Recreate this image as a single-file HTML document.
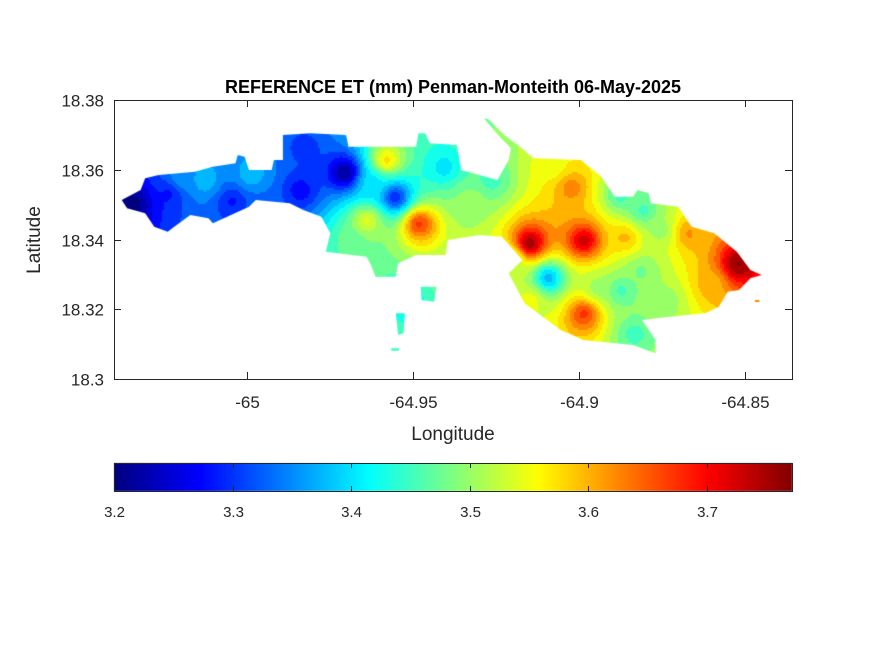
<!DOCTYPE html>
<html><head><meta charset="utf-8">
<style>
body{margin:0;background:#fff;}
#fig{position:relative;width:875px;height:656px;background:#fff;font-family:"Liberation Sans",Arial,sans-serif;color:#262626;overflow:hidden;}
canvas{position:absolute;left:0;top:0;}
svg{position:absolute;left:0;top:0;}
</style></head>
<body>
<div id="fig">
<canvas id="map" width="875" height="656"></canvas>
<svg id="ov" width="875" height="656"></svg>
</div>
<script>
// ---- data: sample points (lon, lat, ET mm) ----
const ptLon=[-64.9708,-64.9557,-64.9584,-64.9642,-64.9485,-64.9151,-64.8988,-64.9027,-64.8524,-64.8675,-64.9096,-64.8988,-64.8864,-65.0346,-65.0238,-65.0130,-65.0048,-64.9843,-64.9831,-64.9627,-64.9410,-64.9328,-64.9681,-64.9081,-64.8810,-64.8741,-64.8837,-64.9151,-64.9518,-64.8946,-64.8605,-64.8877,-64.8756,-64.8816,-64.9268,-64.9208,-64.8877,-65.0202,-64.9991,-64.9961];
const ptLat=[18.3594,18.3523,18.3629,18.3457,18.3448,18.3391,18.3399,18.3551,18.3333,18.3419,18.3293,18.3190,18.3408,18.3505,18.3534,18.3571,18.3514,18.3543,18.3666,18.3563,18.3609,18.3514,18.3399,18.3609,18.3485,18.3227,18.3133,18.3227,18.3227,18.3264,18.3276,18.3528,18.3428,18.3313,18.3571,18.3342,18.3256,18.3577,18.3586,18.3485];
const ptVal=[3.20,3.28,3.58,3.55,3.68,3.77,3.74,3.63,3.77,3.62,3.36,3.68,3.60,3.20,3.28,3.38,3.28,3.27,3.30,3.40,3.40,3.50,3.48,3.55,3.45,3.50,3.45,3.55,3.42,3.50,3.60,3.45,3.50,3.48,3.45,3.50,3.45,3.36,3.38,3.32];
const xTicks=[-65,-64.95,-64.9,-64.85];
const xTickLabels=["-65","-64.95","-64.9","-64.85"];
const yTicks=[18.3,18.32,18.34,18.36,18.38];
const yTickLabels=["18.3","18.32","18.34","18.36","18.38"];
const cTicks=[3.2,3.3,3.4,3.5,3.6,3.7];
const cTickLabels=["3.2","3.3","3.4","3.5","3.6","3.7"];
const cMin=3.2,cMax=3.772;

const AX={l:114,r:792,t:100,b:379};
const xMin=-65.0401,xMax=-64.8359,yMin=18.30,yMax=18.38;
const X=v=>AX.l+(v-xMin)/(xMax-xMin)*(AX.r-AX.l);
const Y=v=>AX.b-(v-yMin)/(yMax-yMin)*(AX.b-AX.t);
const CB={l:114,r:792,t:463,b:491};
const CX=v=>CB.l+(v-cMin)/(cMax-cMin)*(CB.r-CB.l);

function jet(t){t=Math.max(0,Math.min(1,t));
 const f=x=>Math.max(0,Math.min(1,x));
 const r=f(1.5-Math.abs(4*t-3)),g=f(1.5-Math.abs(4*t-2)),b=f(1.5-Math.abs(4*t-1));
 return [r*255|0,g*255|0,b*255|0];}

const outlineZ=[[48,300],[90,270],[100,235],[130,225],[210,215],[250,200],[300,190],[305,165],[320,170],[330,210],[380,210],[385,180],[405,180],[405,105],[465,100],[545,105],[550,140],[700,140],[705,100],[720,100],[730,130],[790,135],[800,210],[880,240],[905,180],[910,145],[885,110],[850,55],[860,58],[895,105],[930,140],[960,175],[1065,180],[1110,230],[1140,290],[1180,290],[1190,270],[1215,280],[1220,310],[1280,320],[1310,380],[1360,400],[1410,455],[1440,510],[1465,525],[1440,535],[1415,570],[1390,575],[1370,620],[1340,640],[1260,650],[1200,660],[1230,720],[1230,760],[1180,735],[1070,720],[1020,690],[940,610],[905,520],[935,480],[890,410],[840,405],[770,420],[765,465],[700,465],[660,490],[655,530],[610,530],[600,495],[590,470],[500,455],[510,400],[490,350],[450,330],[420,310],[345,300],[330,320],[250,370],[240,355],[200,345],[160,385],[150,395],[120,380],[100,340],[60,325]];
const islets=[[[655,640],[675,640],[672,700],[660,705]],[[710,560],[745,560],[740,605],[712,600]],[[645,745],[662,745],[662,752],[645,752]],[[1450,600],[1460,600],[1460,606],[1450,606]]];
const P=([zx,zy])=>[100+zx/2.214,100+zy/3];

const cv=document.getElementById('map'),ctx=cv.getContext('2d');
ctx.save();
ctx.beginPath();
[outlineZ,...islets].forEach(poly=>{poly.forEach((p,i)=>{const [x,y]=P(p);i?ctx.lineTo(x,y):ctx.moveTo(x,y);});ctx.closePath();});
ctx.clip();
const step=2;
for(let py=AX.t;py<AX.b;py+=step){
 for(let px=AX.l;px<AX.r;px+=step){
  let ws=0,vs=0;
  for(let i=0;i<ptVal.length;i++){
   const dx=(X(ptLon[i])-px),dy=(Y(ptLat[i])-py);
   const d2=dx*dx+dy*dy+30;const w=1/Math.pow(d2,1.15);ws+=w;vs+=w*ptVal[i];}
  let v=vs/ws; v=Math.round((v-cMin)/0.025)*0.025+cMin;
  const c=jet((v-cMin)/(cMax-cMin));
  ctx.fillStyle=`rgb(${c[0]},${c[1]},${c[2]})`;
  ctx.fillRect(px,py,step,step);
 }}
ctx.restore();
for(let x=CB.l;x<CB.r;x++){const c=jet((x-CB.l)/(CB.r-CB.l));ctx.fillStyle=`rgb(${c[0]},${c[1]},${c[2]})`;ctx.fillRect(x,CB.t,1,CB.b-CB.t);}

const NS="http://www.w3.org/2000/svg",ov=document.getElementById('ov');
function el(tag,attrs,parent){const e=document.createElementNS(NS,tag);for(const k in attrs)e.setAttribute(k,attrs[k]);(parent||ov).appendChild(e);return e;}
const box=el('rect',{x:AX.l+0.5,y:AX.t+0.5,width:AX.r-AX.l,height:AX.b-AX.t,fill:'none',stroke:'#262626','stroke-width':1});


xTicks.forEach((v,i)=>{const x=Math.round(X(v))+0.5;
 el('line',{x1:x,x2:x,y1:AX.b,y2:AX.b-7,stroke:'#262626'});el('line',{x1:x,x2:x,y1:AX.t,y2:AX.t+7,stroke:'#262626'});
 const t=el('text',{x:x,y:AX.b+29,'text-anchor':'middle','font-size':17,fill:'#262626'});t.textContent=xTickLabels[i];
 
 });
yTicks.forEach((v,i)=>{const y=Math.round(Y(v))+0.5;
 el('line',{x1:AX.l,x2:AX.l+7,y1:y,y2:y,stroke:'#262626'});el('line',{x1:AX.r,x2:AX.r-7,y1:y,y2:y,stroke:'#262626'});
 const t=el('text',{x:AX.l-10,y:y+6,'text-anchor':'end','font-size':17,fill:'#262626'});t.textContent=yTickLabels[i];
 
 });
const ti=el('text',{x:453,y:93,'text-anchor':'middle','font-size':18,'font-weight':'bold',fill:'#000'});ti.textContent='REFERENCE ET (mm) Penman-Monteith 06-May-2025';


const xl=el('text',{x:453,y:440,'text-anchor':'middle','font-size':19,fill:'#262626'});xl.textContent='Longitude';


const yl=el('text',{x:40,y:240,'text-anchor':'middle','font-size':19,fill:'#262626',transform:'rotate(-90 40 240)'});yl.textContent='Latitude';


const cb=el('rect',{x:CB.l+0.5,y:CB.t+0.5,width:CB.r-CB.l,height:CB.b-CB.t,fill:'none',stroke:'#262626'});


cTicks.forEach((v,i)=>{const x=Math.round(CX(v))+0.5;
 el('line',{x1:x,x2:x,y1:CB.b,y2:CB.b-5,stroke:'#262626'});el('line',{x1:x,x2:x,y1:CB.t,y2:CB.t+5,stroke:'#262626'});
 const t=el('text',{x:x,y:517,'text-anchor':'middle','font-size':15,fill:'#262626'});t.textContent=cTickLabels[i];
 
 });
</script>
</body></html>
